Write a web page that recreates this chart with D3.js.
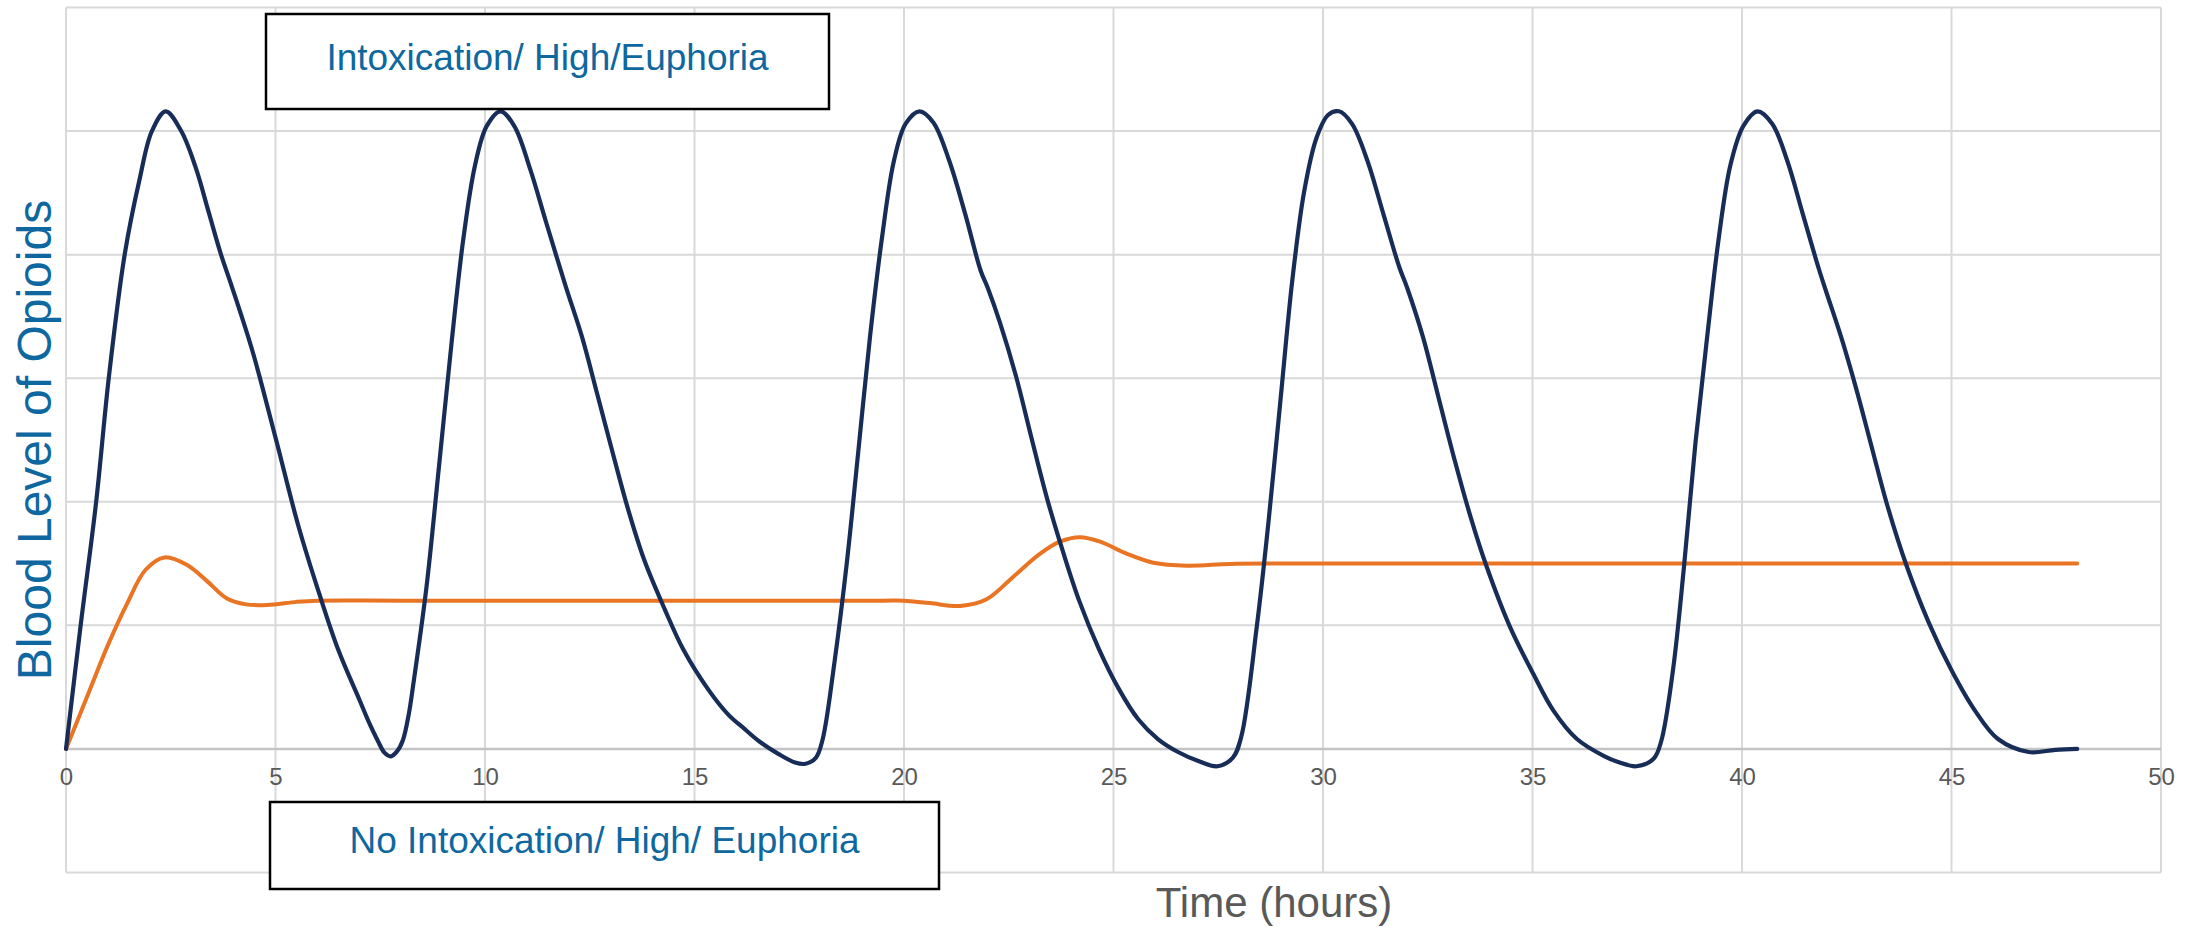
<!DOCTYPE html>
<html>
<head>
<meta charset="utf-8">
<script src="https://cdn.jsdelivr.net/npm/d3@7"></script>
<style>
  html, body { margin: 0; padding: 0; background: #ffffff; }
  svg { display: block; font-family: "Liberation Sans", Arial, sans-serif; }
</style>
</head>
<body>
<svg id="chart" width="2203" height="927"></svg>
<script>
// ---------------- data ----------------
const xTickLabels = [0, 5, 10, 15, 20, 25, 30, 35, 40, 45, 50];
const yGridValues = [-1, 0, 1, 2, 3, 4, 5, 6];

// short-acting use: repeated highs and crashes
const cycleHours = [
  0, 0.35, 0.72, 1.02, 1.40, 1.75, 2.05, 2.38, 2.75, 3.1, 3.4, 3.7, 3.95, 4.45, 5.0, 5.55, 6.05, 6.5, 7.0, 7.25, 7.45, 7.6, 7.75, 7.9,
  8.04, 8.18, 8.3, 8.6, 8.9, 9.2, 9.48, 9.76, 10.04, 10.37, 10.7, 11.08, 11.46, 11.93, 12.31, 12.68, 13.06, 13.44, 13.81, 14.29,
  14.74, 15.33, 15.8, 16.2, 16.55, 17.0, 17.4, 17.65, 17.9,
  18.06, 18.34, 18.63, 18.91, 19.19, 19.48, 19.76, 20.04, 20.37, 20.7, 21.08, 21.46, 21.83, 22.0, 22.29, 22.67, 23.04,
  23.42, 23.8, 24.18, 24.65, 25.12, 25.59, 26.06, 26.54, 27.01, 27.48, 27.85,
  28.05, 28.42, 28.7, 28.99, 29.27, 29.55, 29.84, 30.12, 30.38, 30.69, 31.06, 31.44, 31.82, 32.01, 32.38, 32.76, 33.14,
  33.52, 33.89, 34.46, 35.03, 35.5, 36.06, 36.72, 37.08, 37.48, 37.89,
  38.07, 38.35, 38.62, 38.89, 39.17, 39.44, 39.72, 40.03, 40.37, 40.72, 41.08, 41.45, 41.82, 42.0, 42.36, 42.73, 43.09,
  43.46, 43.92, 44.46, 45.01, 45.56, 46.11, 46.84, 47.48, 48.0
];
const cycleLevels = [
  0, 1.0, 2.0, 3.0, 4.0, 4.6, 5.0, 5.16, 5.0, 4.7, 4.35, 4.0, 3.75, 3.22, 2.52, 1.8, 1.25, 0.8, 0.40, 0.20, 0.06, -0.03, -0.06, -0.02,
  0.07, 0.28, 0.55, 1.3, 2.28, 3.28, 4.12, 4.72, 5.04, 5.16, 5.04, 4.69, 4.26, 3.74, 3.34, 2.87, 2.38, 1.91, 1.52, 1.13,
  0.80, 0.48, 0.28, 0.16, 0.06, -0.04, -0.11, -0.12, -0.07,
  0.08, 0.70, 1.49, 2.41, 3.34, 4.15, 4.76, 5.06, 5.16, 5.07, 4.76, 4.33, 3.87, 3.73, 3.45, 3.02, 2.52,
  2.02, 1.59, 1.20, 0.81, 0.49, 0.24, 0.08, -0.025, -0.096, -0.14, -0.07,
  0.10, 0.99, 1.84, 2.84, 3.80, 4.51, 4.94, 5.13, 5.16, 5.06, 4.76, 4.33, 3.90, 3.73, 3.34, 2.84, 2.34,
  1.88, 1.49, 0.99, 0.60, 0.31, 0.08, -0.06, -0.11, -0.14, -0.08,
  0.06, 0.63, 1.49, 2.48, 3.34, 4.12, 4.72, 5.04, 5.16, 5.06, 4.76, 4.33, 3.90, 3.71, 3.34, 2.91, 2.45,
  1.98, 1.49, 1.02, 0.63, 0.31, 0.08, -0.025, -0.007, 0.0
];

// maintenance medication: stable level
const steadyHours = [
  0, 0.5, 1.0, 1.45, 1.9, 2.35, 2.88, 3.36, 3.83, 4.3, 4.8, 5.5, 6.0, 8.0, 11.0, 14.0, 17.0, 19.5, 20.0,
  20.62, 21.34, 21.97, 22.61, 23.25, 23.72, 24.2, 24.68, 25.31, 25.95, 26.75, 27.78, 29.0, 33.0, 38.0, 43.0, 48.0
];
const steadyLevels = [
  0, 0.42, 0.84, 1.17, 1.45, 1.55, 1.49, 1.36, 1.22, 1.17, 1.165, 1.19, 1.2, 1.2, 1.2, 1.2, 1.2, 1.2, 1.2,
  1.18, 1.157, 1.211, 1.394, 1.58, 1.677, 1.713, 1.677, 1.58, 1.507, 1.483, 1.497, 1.5, 1.5, 1.5, 1.5, 1.5
];

const topBoxText = "Intoxication/ High/Euphoria";
const bottomBoxText = "No Intoxication/ High/ Euphoria";
const xTitle = "Time (hours)";
const yTitle = "Blood Level of Opioids";

// ---------------- drawing ----------------
(function draw() {
  const svg = d3.select("#chart");
  const plotLeft = 66, plotRight = 2161, plotTop = 7.5, plotBottom = 872.5;

  const x = d3.scaleLinear().domain([0, 50]).range([plotLeft, plotRight]);
  const y = d3.scaleLinear().domain([-1, 6]).range([plotBottom, plotTop]);

  const gridColor = "#d9d9d9";

  // vertical gridlines
  svg.append("g")
    .selectAll("line")
    .data(xTickLabels)
    .join("line")
    .attr("x1", d => x(d)).attr("x2", d => x(d))
    .attr("y1", y(6)).attr("y2", y(-1))
    .attr("stroke", gridColor).attr("stroke-width", 2);

  // horizontal gridlines
  svg.append("g")
    .selectAll("line")
    .data(yGridValues)
    .join("line")
    .attr("x1", x(0)).attr("x2", x(50))
    .attr("y1", d => y(d)).attr("y2", d => y(d))
    .attr("stroke", d => d === 0 ? "#c4c4c4" : gridColor)
    .attr("stroke-width", d => d === 0 ? 2.5 : 2);

  // x axis tick labels
  const xAxis = d3.axisBottom(x)
    .tickValues(xTickLabels)
    .tickFormat(d3.format("d"))
    .tickSizeInner(0).tickSizeOuter(0)
    .tickPadding(19);
  const gx = svg.append("g").attr("transform", `translate(0,${y(0)})`).call(xAxis);
  gx.select(".domain").remove();
  gx.selectAll("text")
    .attr("fill", "#595959")
    .style("font-size", "24px")
    .style("font-family", "'Liberation Sans', Arial, sans-serif");

  // lines
  const lineGen = d3.line()
    .x(d => x(d[0]))
    .y(d => y(d[1]))
    .curve(d3.curveCatmullRom.alpha(0.5));

  svg.append("path")
    .datum(d3.zip(steadyHours, steadyLevels))
    .attr("d", lineGen)
    .attr("fill", "none")
    .attr("stroke", "#E87424")
    .attr("stroke-width", 4)
    .attr("stroke-linecap", "round")
    .attr("stroke-linejoin", "round");

  svg.append("path")
    .datum(d3.zip(cycleHours, cycleLevels))
    .attr("d", lineGen)
    .attr("fill", "none")
    .attr("stroke", "#172D58")
    .attr("stroke-width", 4.2)
    .attr("stroke-linecap", "round")
    .attr("stroke-linejoin", "round");

  // annotation boxes
  const textBlue = "#0E689F";
  function addBox(x0, y0, w, h, txt, baseline) {
    svg.append("rect")
      .attr("x", x0).attr("y", y0).attr("width", w).attr("height", h)
      .attr("fill", "#ffffff").attr("stroke", "#000000").attr("stroke-width", 2.5);
    svg.append("text")
      .attr("x", x0 + w / 2).attr("y", baseline)
      .attr("text-anchor", "middle")
      .attr("fill", textBlue)
      .style("font-size", "37px")
      .text(txt);
  }
  addBox(266, 14, 563, 95, topBoxText, 70);
  addBox(270, 802, 669, 87, bottomBoxText, 853);

  // axis titles
  svg.append("text")
    .attr("x", 1274)
    .attr("y", 917)
    .attr("text-anchor", "middle")
    .attr("fill", "#595959")
    .style("font-size", "42px")
    .text(xTitle);

  svg.append("text")
    .attr("transform", "translate(51,440) rotate(-90)")
    .attr("text-anchor", "middle")
    .attr("fill", textBlue)
    .style("font-size", "48px")
    .text(yTitle);
})();
</script>
</body>
</html>
